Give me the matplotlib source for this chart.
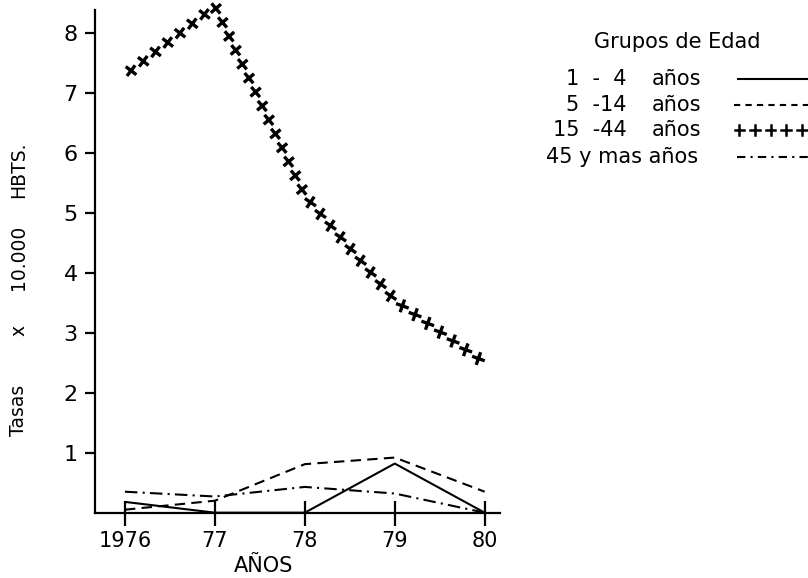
import matplotlib
matplotlib.use("Agg")
import matplotlib.pyplot as plt
import matplotlib.patheffects as pe
from matplotlib.lines import Line2D

years = [1976, 1977, 1978, 1979, 1980]
year_labels = ["1976", "77", "78", "79", "80"]
g_1_4 = [0.18, 0.0, 0.0, 0.82, 0.0]
g_5_14 = [0.05, 0.2, 0.81, 0.92, 0.35]
g_15_44 = [7.3, 8.45, 5.29, 3.54, 2.5]
g_45_mas = [0.35, 0.27, 0.43, 0.32, 0.0]
y_ticks = [1, 2, 3, 4, 5, 6, 7, 8]
legend_title = "Grupos de Edad"
legend_nums = ["1  -  4", "5  -14", "15  -44"]
legend_last = "45 y mas años"

plt.rcParams['font.family'] = 'DejaVu Sans'

fig = plt.figure(figsize=(8.08, 5.78), dpi=100)
ax = fig.add_axes([0.1176, 0.113, 0.5012, 0.8697])


def fx(px):
    return px / 808


def fy(py):
    return 1 - py / 578


def cross_effect(offset):
    return [pe.TickedStroke(spacing=11, angle=a + offset, length=0.33,
                            linewidth=2.4, foreground="k")
            for a in (0, 90, 180, 270)]


lw = 1.5
ax.plot(years, g_1_4, color="k", lw=lw, solid_capstyle="butt")
ax.plot(years, g_5_14, color="k", lw=lw, linestyle=(0, (5, 3)))
ax.plot(years, g_45_mas, color="k", lw=lw, linestyle=(0, (6, 2.5, 1, 2.5)))
ax.plot(years, g_15_44, color=(0, 0, 0, 0), lw=lw, clip_on=False,
        path_effects=cross_effect(15))

ax.set_xlim(1975.667, 1980.17)
ax.set_ylim(0, 8.39)
ax.set_xticks(years)
ax.set_xticklabels(year_labels)
ax.set_yticks(y_ticks)

for s in ("top", "right"):
    ax.spines[s].set_visible(False)
for s in ("left", "bottom"):
    ax.spines[s].set_linewidth(1.6)

ax.tick_params(axis="x", direction="inout", length=18, width=1.6, labelsize=15, pad=4)
ax.tick_params(axis="y", direction="out", length=7.5, width=1.6, labelsize=16, pad=5)

fig.text(fx(264), fy(566), "AÑOS", fontsize=15, ha="center", va="center")

# y label, words spread out as in the original
for word, yy in (("Tasas", 410), ("x", 330), ("10.000", 257), ("HBTS.", 170)):
    fig.text(fx(19), fy(yy), word, rotation=90, fontsize=13.5, ha="center", va="center")

# legend
fig.text(fx(677), fy(42), legend_title, fontsize=15, ha="center", va="center")
row_y = [79, 105, 130, 157]
for num, yy in zip(legend_nums, row_y):
    fig.text(fx(627), fy(yy), num, fontsize=15, ha="right", va="center")
    fig.text(fx(652), fy(yy), "años", fontsize=15, ha="left", va="center")
fig.text(fx(698), fy(row_y[3]), legend_last, fontsize=15, ha="right", va="center")

fig.add_artist(Line2D([fx(738), fx(808)], [fy(79), fy(79)], color="k", lw=lw))
fig.add_artist(Line2D([fx(734), fx(808)], [fy(105), fy(105)], color="k", lw=lw,
                      linestyle=(0, (3, 2.5))))
fig.add_artist(Line2D([fx(733), fx(808)], [fy(130), fy(130)], color=(0, 0, 0, 0),
                      lw=lw, path_effects=[pe.TickedStroke(spacing=9, angle=a, length=0.38,
                                                           linewidth=1.8, foreground="k")
                                           for a in (0, 90, 180, 270)]))
fig.add_artist(Line2D([fx(737), fx(808)], [fy(157), fy(157)], color="k", lw=lw,
                      linestyle=(0, (4, 2.5, 1, 2.5))))

fig.savefig("out.png", dpi=100)
